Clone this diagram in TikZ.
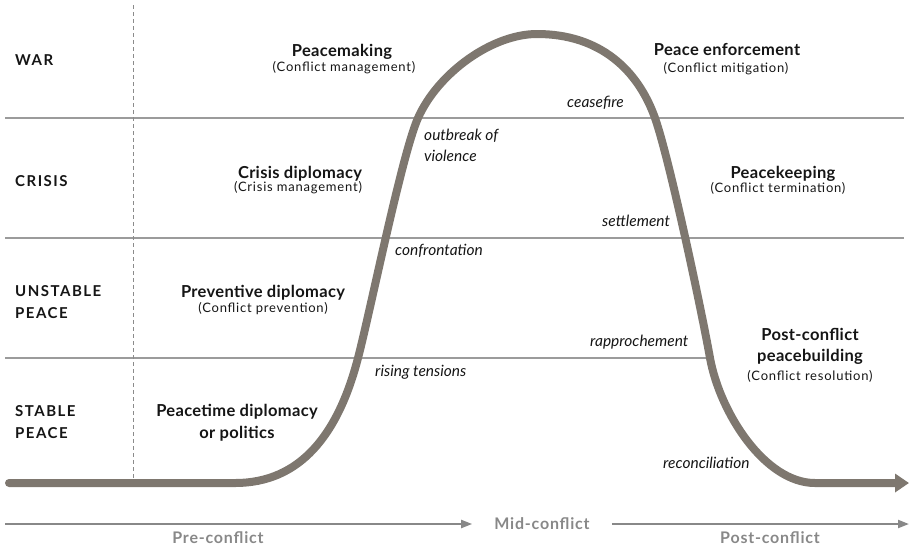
\documentclass[tikz,border=0pt]{standalone}
\usepackage{fontspec}
\setmainfont{Lato}
\usepackage{tikz}
\usetikzlibrary{positioning,arrows.meta}

\definecolor{curvegray}{HTML}{7E776F}
\definecolor{rulegray}{HTML}{9B9B9B}
\definecolor{phasegray}{HTML}{888888}
\definecolor{inkblack}{HTML}{151515}

\begin{document}
\begin{tikzpicture}[x=1pt,y=-1pt]

\tikzstyle{every node}=[inner sep=0pt, text=inkblack]
\tikzstyle{level}=[anchor=base west, align=left,
                   font=\fontsize{15}{21.7}\selectfont\bfseries\addfontfeatures{LetterSpace=10}]
\tikzstyle{head}=[anchor=base, align=center,
                  font=\fontsize{16.5}{21.7}\selectfont\bfseries\addfontfeatures{LetterSpace=2}]
\tikzstyle{sub}=[anchor=base, font=\fontsize{13}{15}\selectfont\addfontfeatures{LetterSpace=6}]
\tikzstyle{event}=[anchor=base west, align=left,
                   font=\fontsize{15.5}{21.7}\selectfont\itshape]
\tikzstyle{phase}=[anchor=base, text=phasegray,
                   font=\fontsize{16}{18}\selectfont\bfseries\addfontfeatures{LetterSpace=5}]
\tikzstyle{band}=[draw=rulegray, line width=1.2pt]
\tikzstyle{timeline}=[draw=phasegray, line width=2pt,
                      -{Triangle[length=11pt,width=8pt]}]

\useasboundingbox (0,0) rectangle (910,550);

% bands and the dashed divider
\foreach \y in {118,238}{\draw[band] (5,\y) -- (904,\y);}
\draw[band] (5,358) -- (712,358);
\draw[rulegray!90!black, line width=0.8pt, dash pattern=on 4pt off 3pt] (133,5) -- (133,483);

% levels (base = last line)
\node[level] (war) at (15,65) {WAR};
\node[level] (crisis) at (15,186.7) {CRISIS};
\node[level] (unstable) at (15,318.3) {UNSTABLE\\PEACE};
\node[level] (stable) at (15,438.3) {STABLE\\PEACE};

% responses
\node[head] (making) at (342,56.7) {Peacemaking};
\node[sub] (makingsub) at (344,71.7) {(Conflict management)};
\node[head] (crisisdip) at (300,178) {Crisis diplomacy};
\node[sub] (crisisdipsub) at (298,191.7) {(Crisis management)};
\node[head] (preventive) at (263,297.3) {Preventive diplomacy};
\node[sub] (preventivesub) at (263,312.7) {(Conflict prevention)};
\node[head] (peacetime) at (237,438.3) {Peacetime diplomacy\\or politics};
\node[head] (enforce) at (727,55.5) {Peace enforcement};
\node[sub] (enforcesub) at (726,72.5) {(Conflict mitigation)};
\node[head] (keeping) at (783,178) {Peacekeeping};
\node[sub] (keepingsub) at (778,192) {(Conflict termination)};
\node[head] (building) at (810,361.7) {Post-conflict\\peacebuilding};
\node[sub] (buildingsub) at (810,380) {(Conflict resolution)};

% events along the curve
\node[event] (ceasefire) at (567,107) {ceasefire};
\node[event] (outbreak) at (424,161.7) {outbreak of\\violence};
\node[event] (settlement) at (602,226.7) {settlement};
\node[event] (confront) at (395,255) {confrontation};
\node[event] (rising) at (375,376.7) {rising tensions};
\node[event] (rapproche) at (590,346.7) {rapprochement};
\node[event] (reconcile) at (663,468) {reconciliation};

% the conflict curve
\draw[curvegray, line width=8pt, line cap=round, -{Triangle[length=14pt,width=18pt]}]
  (9,483) -- (235,483)
  .. controls (300,483) and (338,435) .. (358,358)
  .. controls (371,308) and (402,154) .. (418,118)
  .. controls (438,73) and (492,34) .. (537,34)
  .. controls (600,34) and (638,70) .. (655,118)
  .. controls (670,161) and (702,313) .. (710,358)
  .. controls (720,413) and (765,483) .. (815,483)
  -- (909,483);

% phases
\coordinate (pre) at (5,524);
\coordinate (post) at (909,524);
\node[phase, anchor=center, inner xsep=22pt] (mid) at (542,524) {Mid-conflict};
\node[phase] (prelabel) at (218,543) {Pre-conflict};
\node[phase] (postlabel) at (770,543) {Post-conflict};
\draw[timeline] (pre) -- (mid);
\draw[timeline] (mid) -- (post);

\end{tikzpicture}
\end{document}
